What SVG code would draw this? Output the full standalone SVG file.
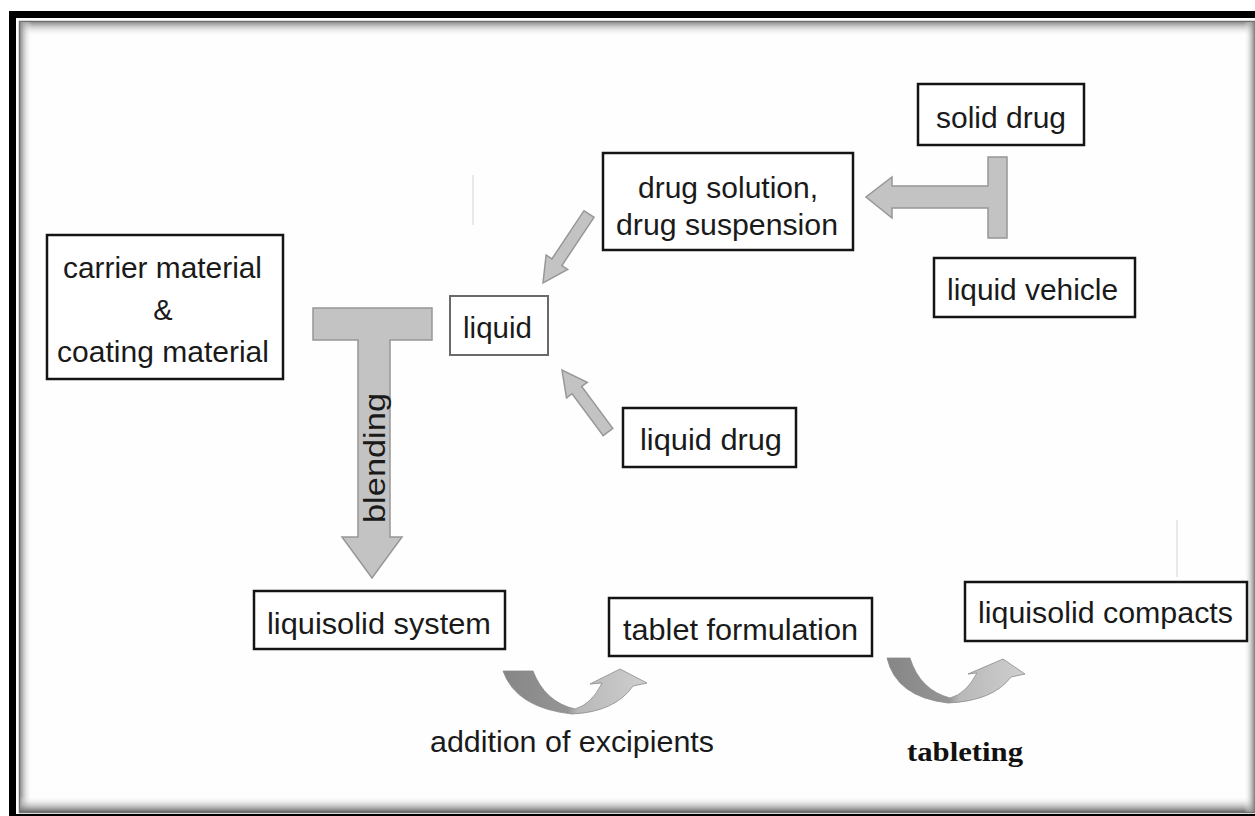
<svg xmlns="http://www.w3.org/2000/svg" width="1255" height="816" viewBox="0 0 1255 816">
  <style>
    .box { fill: #ffffff; stroke: #141414; stroke-width: 2.5; }
    .boxlight { fill: #ffffff; stroke: #6a6a6a; stroke-width: 2; }
    .lbl { font-family: "Liberation Sans", Arial, sans-serif; font-size: 29px; fill: #1a1a1a; }
    .serif { font-family: "Liberation Serif", "Times New Roman", serif; font-size: 27px; font-weight: bold; fill: #111; }
    .garrow { fill: #c3c3c3; stroke: #979797; stroke-width: 1.5; stroke-linejoin: miter; }
    .faint { stroke: #e2e2e2; stroke-width: 1.5; }
  </style>
  <defs>
    <linearGradient id="shTop" x1="0" y1="0" x2="0" y2="1">
      <stop offset="0" stop-color="#8a8a8a"/>
      <stop offset="1" stop-color="#ffffff" stop-opacity="0"/>
    </linearGradient>
    <linearGradient id="shLeft" x1="0" y1="0" x2="1" y2="0">
      <stop offset="0" stop-color="#8a8a8a"/>
      <stop offset="1" stop-color="#ffffff" stop-opacity="0"/>
    </linearGradient>
    <linearGradient id="shBottom" x1="0" y1="1" x2="0" y2="0">
      <stop offset="0" stop-color="#6a6a6a"/>
      <stop offset="1" stop-color="#ffffff" stop-opacity="0"/>
    </linearGradient>
    <linearGradient id="shRight" x1="1" y1="0" x2="0" y2="0">
      <stop offset="0" stop-color="#7a7a7a"/>
      <stop offset="1" stop-color="#ffffff" stop-opacity="0"/>
    </linearGradient>
    <linearGradient id="curveFill" x1="0" y1="0" x2="1" y2="0">
      <stop offset="0" stop-color="#868686"/>
      <stop offset="0.45" stop-color="#959595"/>
      <stop offset="0.52" stop-color="#b8b8b8"/>
      <stop offset="1" stop-color="#cfcfcf"/>
    </linearGradient>
  </defs>

  <!-- frame -->
  <g id="frame">
    <rect x="0" y="0" width="1255" height="816" fill="#ffffff"/>
    <rect x="9" y="11" width="1260" height="820" fill="#000000"/>
    <rect x="16" y="18" width="1250" height="796" fill="#ffffff"/>
    <rect x="19.5" y="21.5" width="1250" height="791" fill="#fefefe" stroke="#707070" stroke-width="1.5"/>
    <rect x="20" y="22" width="1235" height="14" fill="url(#shTop)"/>
    <rect x="20" y="22" width="12" height="790" fill="url(#shLeft)"/>
    <rect x="20" y="796" width="1235" height="16" fill="url(#shBottom)"/>
    <rect x="1244" y="22" width="11" height="790" fill="url(#shRight)"/>
  </g>

  <!-- connectors -->
  <g id="connectors">
    <line class="faint" x1="473" y1="175" x2="473" y2="225"/>
    <line class="faint" x1="1177" y1="520" x2="1177" y2="577"/>
    <!-- T arrow: solid drug + liquid vehicle -> drug solution -->
    <path class="garrow" d="M1007,157 L988,157 L988,186 L892,186 L892,177 L866,197 L892,218 L892,208 L988,208 L988,238 L1007,238 Z"/>
    <!-- drug solution -> liquid -->
    <path class="garrow" d="M594,217.3 L561.9,265.5 L567.7,269.4 L543,283 L546.1,255 L551.9,258.9 L584,210.7 Z"/>
    <!-- liquid drug -> liquid -->
    <path class="garrow" d="M612.8,428.4 L581.7,386.5 L587.3,382.3 L562,370 L566.5,397.8 L572.1,393.7 L603.2,435.6 Z"/>
    <!-- blending T arrow -->
    <path class="garrow" d="M313,308 L432,308 L432,340 L390,340 L390,537 L402,537 L372,578 L342,537 L358,537 L358,340 L313,340 Z"/>
    <!-- curved arrow: addition of excipients -->
    <path fill="url(#curveFill)" stroke="#8a8a8a" stroke-width="0.8" d="M503,671 L533,671 Q545,702 575,709 Q592,704 602,683 L590,684 L620,669 L647,683 L633,686 Q615,712 572,714 Q516,708 503,671 Z"/>
    <!-- curved arrow: tableting -->
    <path fill="url(#curveFill)" stroke="#8a8a8a" stroke-width="0.8" d="M887,658 L910,658 Q920,690 950,698 Q966,694 977,673 L968,674 L1003,659 L1025,674 L1011,677 Q993,701 948,703 Q896,697 887,658 Z"/>
    <text class="lbl" transform="translate(385,523) rotate(-90)" font-size="31" textLength="130" lengthAdjust="spacingAndGlyphs">blending</text>
    <text class="lbl" x="430" y="752" textLength="284" lengthAdjust="spacingAndGlyphs">addition of excipients</text>
    <text class="serif" x="907" y="761" textLength="116" lengthAdjust="spacingAndGlyphs">tableting</text>
  </g>

  <!-- nodes -->
  <g id="solid-drug">
    <rect class="box" x="918" y="84" width="166" height="61"/>
    <text class="lbl" x="936" y="128" textLength="130" lengthAdjust="spacingAndGlyphs">solid drug</text>
  </g>
  <g id="drug-solution">
    <rect class="box" x="603" y="153" width="250" height="97"/>
    <text class="lbl" x="638" y="198" textLength="180" lengthAdjust="spacingAndGlyphs">drug solution,</text>
    <text class="lbl" x="616" y="235" textLength="222" lengthAdjust="spacingAndGlyphs">drug suspension</text>
  </g>
  <g id="liquid-vehicle">
    <rect class="box" x="934" y="258" width="201" height="59"/>
    <text class="lbl" x="947" y="300" textLength="171" lengthAdjust="spacingAndGlyphs">liquid vehicle</text>
  </g>
  <g id="carrier-material">
    <rect class="box" x="47" y="235" width="236" height="144"/>
    <text class="lbl" x="63" y="278" textLength="199" lengthAdjust="spacingAndGlyphs">carrier material</text>
    <text class="lbl" x="163" y="320" text-anchor="middle">&amp;</text>
    <text class="lbl" x="57" y="362" textLength="212" lengthAdjust="spacingAndGlyphs">coating material</text>
  </g>
  <g id="liquid">
    <rect class="boxlight" x="450" y="296" width="98" height="59"/>
    <text class="lbl" x="463" y="338" textLength="69" lengthAdjust="spacingAndGlyphs">liquid</text>
  </g>
  <g id="liquid-drug">
    <rect class="box" x="623" y="408" width="173" height="59"/>
    <text class="lbl" x="640" y="450" textLength="142" lengthAdjust="spacingAndGlyphs">liquid drug</text>
  </g>
  <g id="liquisolid-system">
    <rect class="box" x="254" y="591" width="251" height="58"/>
    <text class="lbl" x="267" y="634" textLength="224" lengthAdjust="spacingAndGlyphs">liquisolid  system</text>
  </g>
  <g id="tablet-formulation">
    <rect class="box" x="609" y="598" width="263" height="58"/>
    <text class="lbl" x="623" y="640" textLength="235" lengthAdjust="spacingAndGlyphs">tablet formulation</text>
  </g>
  <g id="liquisolid-compacts">
    <rect class="box" x="965" y="582" width="282" height="59"/>
    <text class="lbl" x="978" y="623" textLength="255" lengthAdjust="spacingAndGlyphs">liquisolid compacts</text>
  </g>
</svg>
